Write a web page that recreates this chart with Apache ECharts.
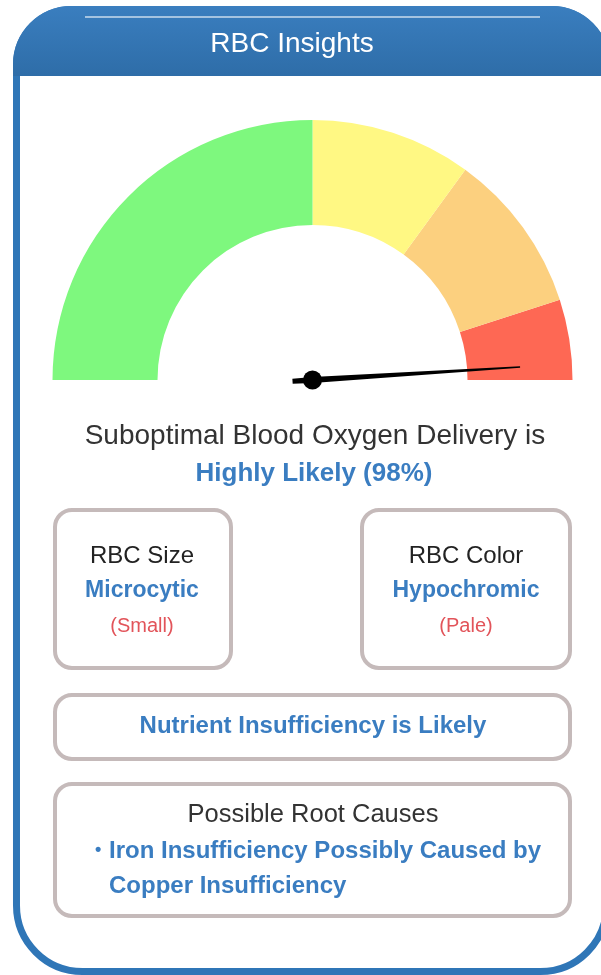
<!DOCTYPE html>
<html>
<head>
<meta charset="utf-8">
<script src="https://cdn.jsdelivr.net/npm/echarts@6/dist/echarts.min.js"></script>
<style type="text/css">
html, body{margin: 0; padding: 0; background: #fff;}
#main{width: 601px; height: 975px;}
</style>
</head>
<body>
<div id="main"></div>
<script>
// gauge bands (upper bound of each band, 0-1) and their colours
var bandStops = [0.5, 0.7, 0.9, 1];
var bandColors = ['#7ef87e', '#fff883', '#fcd07f', '#fe6854'];
var likelihood = 98;

var titleText = 'RBC Insights';
var deliveryLine = 'Suboptimal Blood Oxygen Delivery is';
var deliveryLevel = 'Highly Likely (' + likelihood + '%)';
var cardLabels = ['RBC Size', 'RBC Color'];
var cardValues = ['Microcytic', 'Hypochromic'];
var cardNotes = ['(Small)', '(Pale)'];
var nutrientText = 'Nutrient Insufficiency is Likely';
var causesTitle = 'Possible Root Causes';
var causesLines = ['Iron Insufficiency Possibly Caused by', 'Copper Insufficiency'];

var BLUE = '#3a7dc1';
var DARK = '#333333';
var RED = '#e2545a';
var BOX = '#c5baba';
var FONT = '"Liberation Sans", Arial, sans-serif';

function box(x, y, w, h){
    return {type: 'rect', shape: {x: x, y: y, width: w, height: h, r: 17},
        style: {fill: '#fff', stroke: BOX, lineWidth: 4}, z: 1};
}
function txt(s, x, y, size, color, bold, align){
    return {type: 'text', z: 2, style: {text: s, x: x, y: y, fill: color,
        align: align || 'center', verticalAlign: 'middle',
        font: (bold ? 'bold ' : '') + size + 'px ' + FONT}};
}

var cardX = [142, 466];
var elements = [
    // outer card
    {type: 'rect', shape: {x: 16.5, y: 9.5, width: 590, height: 962, r: [55, 55, 66, 66]},
        style: {fill: '#fff', stroke: '#2f76b7', lineWidth: 7}, z: 0},
    // header
    {type: 'rect', shape: {x: 13, y: 6, width: 597, height: 70, r: [58, 58, 0, 0]},
        style: {fill: new echarts.graphic.LinearGradient(0, 0, 0, 1, [
            {offset: 0, color: '#3a7ebf'}, {offset: 1, color: '#2e6da8'}])}, z: 1},
    {type: 'line', shape: {x1: 85, y1: 17, x2: 540, y2: 17},
        style: {stroke: 'rgba(255,255,255,0.55)', lineWidth: 2}, z: 2},
    {type: 'line', shape: {x1: 22, y1: 76.5, x2: 606, y2: 76.5},
        style: {stroke: 'rgba(255,255,255,0.6)', lineWidth: 1}, z: 2},
    txt(titleText, 292, 44, 28, '#fff', false),
    txt(deliveryLine, 315, 436, 28, DARK, false),
    txt(deliveryLevel, 314, 474, 26, BLUE, true),
    box(55, 510, 176, 158),
    box(362, 510, 208, 158),
    box(55, 695, 515, 64),
    box(55, 784, 515, 132),
    txt(nutrientText, 313, 726, 24, BLUE, true),
    txt(causesTitle, 313, 815, 25.5, DARK, false),
    txt('•', 95, 850, 18, BLUE, true, 'left'),
    txt(causesLines[0], 109, 851, 24, BLUE, true, 'left'),
    txt(causesLines[1], 109, 886, 24, BLUE, true, 'left')
];
cardLabels.forEach(function(l, i){
    elements.push(txt(l, cardX[i], 556, 24, '#222', false));
    elements.push(txt(cardValues[i], cardX[i], 591, 23, BLUE, true));
    elements.push(txt(cardNotes[i], cardX[i], 626, 20, RED, false));
});

var chart = echarts.init(document.getElementById('main'), null, {renderer: 'canvas'});
chart.setOption({
    animation: false,
    graphic: {elements: elements},
    series: [{
        type: 'gauge',
        z: 5,
        center: [312.5, 380],
        radius: 260,
        startAngle: 180,
        endAngle: 0,
        min: 0,
        max: 100,
        axisLine: {
            lineStyle: {
                width: 105,
                color: bandStops.map(function(s, i){ return [s, bandColors[i]]; })
            }
        },
        splitLine: {show: false},
        axisTick: {show: false},
        axisLabel: {show: false},
        pointer: {
            icon: 'path://M4.2,0 L5.8,0 L8,208 L7.5,228 L2.5,228 L2,208 Z',
            length: 228,
            width: 6,
            offsetCenter: [0, 20],
            itemStyle: {color: '#000'}
        },
        anchor: {show: true, showAbove: true, size: 19, itemStyle: {color: '#000'}},
        title: {show: false},
        detail: {show: false},
        data: [{value: likelihood}]
    }]
});
</script>
</body>
</html>
